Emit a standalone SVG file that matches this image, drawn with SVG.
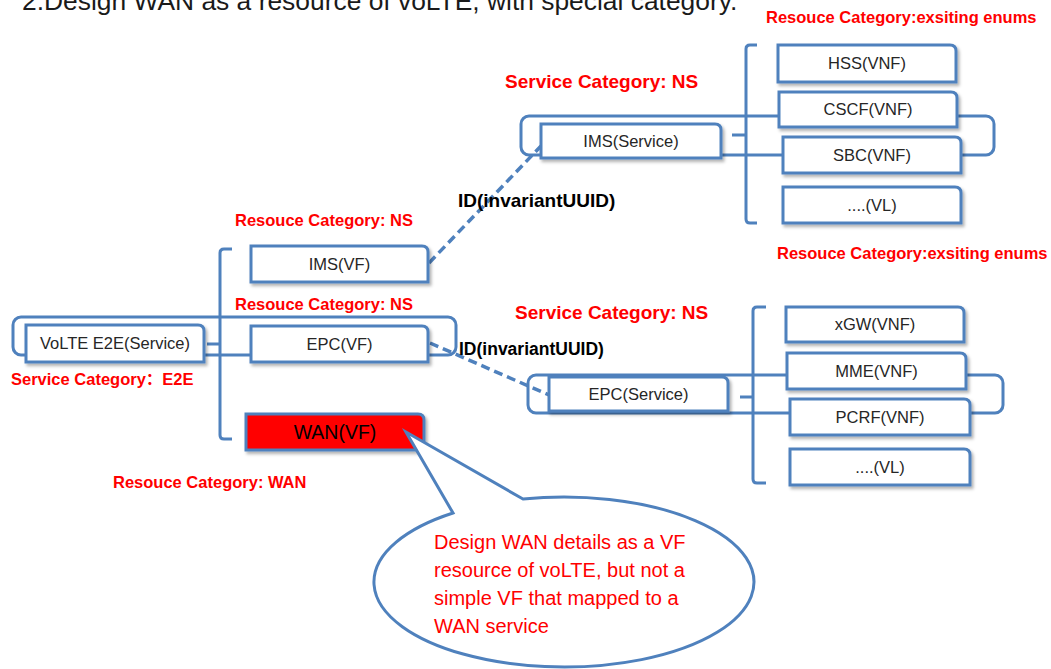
<svg xmlns="http://www.w3.org/2000/svg" width="1051" height="669" viewBox="0 0 1051 669">
<defs>
<filter id="sh" x="-10%" y="-20%" width="130%" height="160%">
<feDropShadow dx="2" dy="2.5" stdDeviation="1.5" flood-color="#000" flood-opacity="0.3"/>
</filter>
</defs>
<style>
.box{fill:#fff;stroke:#4f81bd;stroke-width:3;filter:url(#sh)}
.grp{fill:none;stroke:#4f81bd;stroke-width:3}
.br{fill:none;stroke:#4f81bd;stroke-width:3}
.dash{fill:none;stroke:#4f81bd;stroke-width:3.5;stroke-dasharray:9 5}
.nt{font-family:"Liberation Sans",Arial,sans-serif;font-size:16.5px;fill:#262626;text-anchor:middle}
.rc{font-family:"Liberation Sans",Arial,"Noto Sans CJK SC",sans-serif;font-size:16.5px;font-weight:bold;fill:#ff0000}
.sc{font-family:"Liberation Sans",Arial,sans-serif;font-size:19px;font-weight:bold;fill:#ff0000}
.id{font-family:"Liberation Sans",Arial,sans-serif;font-weight:bold;fill:#000}
.co{font-family:"Liberation Sans",Arial,sans-serif;font-size:20px;fill:#ff0000}
</style>
<rect width="1051" height="669" fill="#fff"/>
<text x="22" y="10" font-family="Liberation Sans,Arial,sans-serif" font-size="26.4" fill="#1a1a1a">2.Design WAN as a resource of voLTE, with special category.</text>

<!-- grouping outlines -->
<g id="groups">
<rect class="grp" x="13" y="317" width="443" height="38" rx="8"/>
<rect class="grp" x="521" y="116" width="473" height="39" rx="8"/>
<rect class="grp" x="528" y="375" width="475" height="38" rx="8"/>
</g>

<!-- connectors -->
<g id="connectors">
<path class="br" d="M232,249 H224 Q220,249 220,253 V435 Q220,439 224,439 H232 M207,344 H220"/>
<path class="br" d="M757,45 H750 Q746,45 746,49 V219 Q746,223 750,223 H757 M732,135 H746"/>
<path class="br" d="M766,307 H757 Q753,307 753,311 V479 Q753,483 757,483 H766 M740,397 H753"/>
<path class="dash" d="M429,263 L541,146"/>
<path class="dash" d="M430,343 L549,395"/>
</g>

<g id="n-volte"><path class="box" d="M26,325 H198 Q204,325 204,331 V362 H26 Z"/><text class="nt" x="115" y="349">VoLTE E2E(Service)</text></g>
<g id="n-imsvf"><path class="box" d="M251,246 H422 Q428,246 428,252 V282 H251 Z"/><text class="nt" x="339.5" y="270">IMS(VF)</text></g>
<g id="n-epcvf"><path class="box" d="M251,326 H422 Q428,326 428,332 V362 H251 Z"/><text class="nt" x="339.5" y="350">EPC(VF)</text></g>
<g id="n-wanvf"><path class="box" style="fill:#ff0000" d="M246,414 H418 Q424,414 424,420 V450 H246 Z"/><text x="335" y="439" font-family="Liberation Sans,Arial,sans-serif" font-size="19.5" fill="#000" text-anchor="middle">WAN(VF)</text></g>

<g id="n-imssvc"><path class="box" d="M541,124 H715 Q721,124 721,130 V158 H541 Z"/><text class="nt" x="631" y="147">IMS(Service)</text></g>
<g id="n-hss"><path class="box" d="M778,45 H950 Q956,45 956,51 V82 H778 Z"/><text class="nt" x="867" y="69">HSS(VNF)</text></g>
<g id="n-cscf"><path class="box" d="M779,92 H951 Q957,92 957,98 V127 H779 Z"/><text class="nt" x="868" y="115">CSCF(VNF)</text></g>
<g id="n-sbc"><path class="box" d="M783,137 H955 Q961,137 961,143 V173 H783 Z"/><text class="nt" x="872" y="161">SBC(VNF)</text></g>
<g id="n-vl1"><path class="box" d="M783,187 H955 Q961,187 961,193 V223 H783 Z"/><text class="nt" x="872" y="211">....(VL)</text></g>

<g id="n-epcsvc"><path class="box" d="M549,377 H722 Q728,377 728,383 V411 H549 Z"/><text class="nt" x="638.5" y="400">EPC(Service)</text></g>
<g id="n-xgw"><path class="box" d="M786,307 H958 Q964,307 964,313 V342 H786 Z"/><text class="nt" x="875" y="330">xGW(VNF)</text></g>
<g id="n-mme"><path class="box" d="M787,353 H960 Q966,353 966,359 V389 H787 Z"/><text class="nt" x="876.5" y="377">MME(VNF)</text></g>
<g id="n-pcrf"><path class="box" d="M790,399 H964 Q970,399 970,405 V435 H790 Z"/><text class="nt" x="880" y="423">PCRF(VNF)</text></g>
<g id="n-vl2"><path class="box" d="M790,449 H964 Q970,449 970,455 V485 H790 Z"/><text class="nt" x="880" y="473">....(VL)</text></g>

<g id="labels">
<text class="rc" x="766" y="23">Resouce Category:exsiting enums</text>
<text class="sc" x="505" y="88">Service Category: NS</text>
<text class="id" x="458" y="207" font-size="19">ID(invariantUUID)</text>
<text class="rc" x="235" y="226">Resouce Category: NS</text>
<text class="rc" x="777" y="259">Resouce Category:exsiting enums</text>
<text class="rc" x="235" y="310">Resouce Category: NS</text>
<text class="sc" x="515" y="319">Service Category: NS</text>
<text class="id" x="459" y="355" font-size="17.5">ID(invariantUUID)</text>
<text class="rc" x="11" y="385">Service Category：E2E</text>
<text class="rc" x="113" y="488">Resouce Category: WAN</text>
</g>

<g id="callout">
<path d="M523,499 L406,432 L453,513 A190,85 0 1 0 523,499 Z" fill="#fff" stroke="#4f81bd" stroke-width="3" stroke-linejoin="miter"/>
<text class="co" x="434" y="549">Design WAN details as a VF</text>
<text class="co" x="434" y="577">resource of voLTE, but not a</text>
<text class="co" x="434" y="605">simple VF that mapped to a</text>
<text class="co" x="434" y="633">WAN service</text>
</g>
</svg>
